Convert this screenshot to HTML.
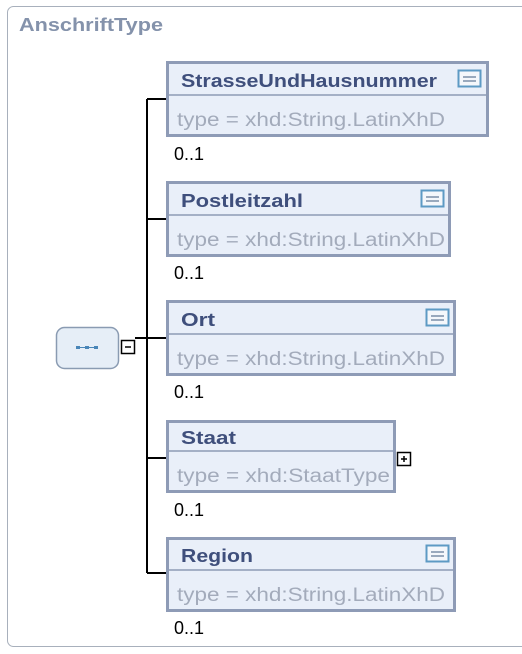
<!DOCTYPE html>
<html><head><meta charset="utf-8"><style>
html,body{margin:0;padding:0;background:#fff;width:522px;height:654px;overflow:hidden}
</style></head><body>
<svg width="522" height="654" xmlns="http://www.w3.org/2000/svg" font-family="Liberation Sans, sans-serif">
<rect x="7.5" y="6.5" width="530" height="640" rx="6" fill="#fff" stroke="#a8b0bc" stroke-width="1"/>
<text x="19" y="31" font-size="18" font-weight="bold" fill="#8492ab" textLength="144" lengthAdjust="spacingAndGlyphs">AnschriftType</text>
<g stroke="#000" stroke-width="2" fill="none">
<line x1="147" y1="99" x2="147" y2="573"/>
<line x1="147" y1="99" x2="167" y2="99"/>
<line x1="147" y1="219" x2="167" y2="219"/>
<line x1="147" y1="338" x2="167" y2="338"/>
<line x1="147" y1="458" x2="167" y2="458"/>
<line x1="147" y1="573" x2="167" y2="573"/>
<line x1="135" y1="338" x2="147" y2="338"/>
</g>
<rect x="56.5" y="327.5" width="62" height="41" rx="8" fill="#e6eef7" stroke="#8a9bb2" stroke-width="1.5"/>
<g fill="#4a86b8"><rect x="76" y="346" width="4" height="3"/><rect x="85" y="346" width="4" height="3"/><rect x="94" y="346" width="4" height="3"/></g>
<line x1="78" y1="347.5" x2="96" y2="347.5" stroke="#4a86b8" stroke-width="1"/>
<rect x="121.5" y="340.5" width="13" height="13" fill="#fff" stroke="#000" stroke-width="1.5"/>
<line x1="125" y1="347" x2="131" y2="347" stroke="#000" stroke-width="1.5"/>
<rect x="397.5" y="452.5" width="13" height="13" fill="#fff" stroke="#000" stroke-width="1.5"/>
<line x1="401" y1="459" x2="407" y2="459" stroke="#000" stroke-width="1.5"/>
<line x1="404" y1="456" x2="404" y2="462" stroke="#000" stroke-width="1.5"/>

<g>
<rect x="167.5" y="62.5" width="320" height="73" fill="#e9eff9" stroke="#8e9bb6" stroke-width="3"/>
<line x1="169" y1="95" x2="486" y2="95" stroke="#8e9bb6" stroke-width="1.5"/>
<text x="181" y="87" font-size="18" font-weight="bold" fill="#3f4f7c" textLength="256" lengthAdjust="spacingAndGlyphs">StrasseUndHausnummer</text>
<text x="177" y="126" font-size="19" fill="#a3abbb" textLength="268" lengthAdjust="spacingAndGlyphs">type = xhd:String.LatinXhD</text>
<rect x="458.5" y="70.5" width="22" height="16" fill="#f4f7fb" stroke="#5d9ac4" stroke-width="2"/>
<line x1="463" y1="77" x2="476" y2="77" stroke="#7b8fa8" stroke-width="1.5"/><line x1="463" y1="81" x2="476" y2="81" stroke="#7b8fa8" stroke-width="1.5"/>
<text x="174" y="160" font-size="18" fill="#000">0..1</text>
</g>
<g>
<rect x="167.5" y="182.5" width="282" height="73" fill="#e9eff9" stroke="#8e9bb6" stroke-width="3"/>
<line x1="169" y1="215" x2="448" y2="215" stroke="#8e9bb6" stroke-width="1.5"/>
<text x="181" y="207" font-size="18" font-weight="bold" fill="#3f4f7c" textLength="122" lengthAdjust="spacingAndGlyphs">Postleitzahl</text>
<text x="177" y="246" font-size="19" fill="#a3abbb" textLength="268" lengthAdjust="spacingAndGlyphs">type = xhd:String.LatinXhD</text>
<rect x="421.5" y="190.5" width="22" height="16" fill="#f4f7fb" stroke="#5d9ac4" stroke-width="2"/>
<line x1="426" y1="197" x2="439" y2="197" stroke="#7b8fa8" stroke-width="1.5"/><line x1="426" y1="201" x2="439" y2="201" stroke="#7b8fa8" stroke-width="1.5"/>
<text x="174" y="279" font-size="18" fill="#000">0..1</text>
</g>
<g>
<rect x="167.5" y="301.5" width="287" height="73" fill="#e9eff9" stroke="#8e9bb6" stroke-width="3"/>
<line x1="169" y1="334" x2="453" y2="334" stroke="#8e9bb6" stroke-width="1.5"/>
<text x="181" y="326" font-size="18" font-weight="bold" fill="#3f4f7c" textLength="34" lengthAdjust="spacingAndGlyphs">Ort</text>
<text x="177" y="365" font-size="19" fill="#a3abbb" textLength="268" lengthAdjust="spacingAndGlyphs">type = xhd:String.LatinXhD</text>
<rect x="426.5" y="309.5" width="22" height="16" fill="#f4f7fb" stroke="#5d9ac4" stroke-width="2"/>
<line x1="431" y1="316" x2="444" y2="316" stroke="#7b8fa8" stroke-width="1.5"/><line x1="431" y1="320" x2="444" y2="320" stroke="#7b8fa8" stroke-width="1.5"/>
<text x="174" y="398" font-size="18" fill="#000">0..1</text>
</g>
<g>
<rect x="167.5" y="421.5" width="227" height="70" fill="#e9eff9" stroke="#8e9bb6" stroke-width="3"/>
<line x1="169" y1="451" x2="393" y2="451" stroke="#8e9bb6" stroke-width="1.5"/>
<text x="181" y="444" font-size="18" font-weight="bold" fill="#3f4f7c" textLength="55" lengthAdjust="spacingAndGlyphs">Staat</text>
<text x="177" y="482" font-size="19" fill="#a3abbb" textLength="213" lengthAdjust="spacingAndGlyphs">type = xhd:StaatType</text>
<text x="174" y="516" font-size="18" fill="#000">0..1</text>
</g>
<g>
<rect x="167.5" y="538.5" width="287" height="72" fill="#e9eff9" stroke="#8e9bb6" stroke-width="3"/>
<line x1="169" y1="570" x2="453" y2="570" stroke="#8e9bb6" stroke-width="1.5"/>
<text x="181" y="562" font-size="18" font-weight="bold" fill="#3f4f7c" textLength="72" lengthAdjust="spacingAndGlyphs">Region</text>
<text x="177" y="601" font-size="19" fill="#a3abbb" textLength="268" lengthAdjust="spacingAndGlyphs">type = xhd:String.LatinXhD</text>
<rect x="426.5" y="545.5" width="22" height="16" fill="#f4f7fb" stroke="#5d9ac4" stroke-width="2"/>
<line x1="431" y1="552" x2="444" y2="552" stroke="#7b8fa8" stroke-width="1.5"/><line x1="431" y1="556" x2="444" y2="556" stroke="#7b8fa8" stroke-width="1.5"/>
<text x="174" y="634" font-size="18" fill="#000">0..1</text>
</g>
</svg>
</body></html>
